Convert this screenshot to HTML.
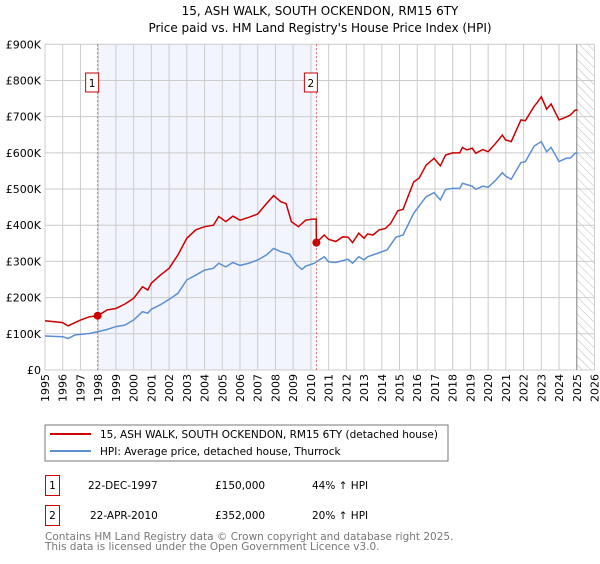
<!DOCTYPE html>
<html><head><meta charset="utf-8"><style>
body{margin:0;background:#fff;font-family:"DejaVu Sans","Liberation Sans",sans-serif;}
svg text{font-family:"DejaVu Sans","Liberation Sans",sans-serif;}
</style></head><body>
<svg id="c" width="600" height="560" viewBox="0 0 600 560">
<defs><pattern id="hatch" width="6" height="6" patternUnits="userSpaceOnUse" patternTransform="rotate(-45)"><line x1="0" y1="0" x2="0" y2="6" stroke="#bbb" stroke-width="1"/></pattern></defs>
<text x="320" y="15" text-anchor="middle" font-size="12">15, ASH WALK, SOUTH OCKENDON, RM15 6TY</text>
<text x="320" y="32" text-anchor="middle" font-size="12">Price paid vs. HM Land Registry's House Price Index (HPI)</text>
<g id="plot"></g>
<rect x="45" y="425" width="403" height="36" fill="#fff" stroke="#777"/>
<line x1="50" y1="434" x2="91" y2="434" stroke="#cc0000" stroke-width="2"/>
<text x="100" y="438" font-size="10.5">15, ASH WALK, SOUTH OCKENDON, RM15 6TY (detached house)</text>
<line x1="50" y1="451" x2="91" y2="451" stroke="#5b8fd4" stroke-width="2"/>
<text x="100" y="455" font-size="10.5">HPI: Average price, detached house, Thurrock</text>
<g>
<rect x="45.5" y="475.5" width="14" height="20" fill="#fff" stroke="#cc0000"/>
<text x="52.5" y="489" text-anchor="middle" font-size="10.5">1</text>
<text x="88" y="489" font-size="10.5">22-DEC-1997</text>
<text x="215" y="489" font-size="10.5">£150,000</text>
<text x="312" y="489" font-size="10.5">44% ↑ HPI</text></g>
<g>
<rect x="45.5" y="505.5" width="14" height="20" fill="#fff" stroke="#cc0000"/>
<text x="52.5" y="519" text-anchor="middle" font-size="10.5">2</text>
<text x="90" y="519" font-size="10.5">22-APR-2010</text>
<text x="215" y="519" font-size="10.5">£352,000</text>
<text x="312" y="519" font-size="10.5">20% ↑ HPI</text></g>
<text x="45" y="540" font-size="10.5" fill="#777">Contains HM Land Registry data © Crown copyright and database right 2025.</text>
<text x="45" y="550" font-size="10.5" fill="#777">This data is licensed under the Open Government Licence v3.0.</text>
</svg>
<script>
const yTicks=[0,100,200,300,400,500,600,700,800,900];
const yTickLabels=["£0","£100K","£200K","£300K","£400K","£500K","£600K","£700K","£800K","£900K"];
const years=[1995,1996,1997,1998,1999,2000,2001,2002,2003,2004,2005,2006,2007,2008,2009,2010,2011,2012,2013,2014,2015,2016,2017,2018,2019,2020,2021,2022,2023,2024,2025,2026];
const saleDates=[1997.97,2010.31];
const salePrices=[150,352];
const saleLabels=["1","2"];
const redT=[1995,1996,1996.3,1997,1997.5,1997.97,1998.5,1999,1999.5,2000,2000.5,2000.8,2001,2001.5,2002,2002.5,2003,2003.5,2004,2004.5,2004.8,2005.2,2005.6,2006,2006.5,2007,2007.5,2007.9,2008.3,2008.6,2008.9,2009.3,2009.7,2010.1,2010.3,2010.31,2010.75,2011,2011.4,2011.8,2012.1,2012.35,2012.7,2013,2013.2,2013.5,2013.85,2014.2,2014.5,2014.9,2015.2,2015.8,2016.1,2016.5,2016.95,2017.3,2017.6,2018,2018.4,2018.55,2018.8,2019.1,2019.3,2019.7,2020,2020.4,2020.8,2020.98,2021.3,2021.85,2022.1,2022.6,2022.8,2023,2023.3,2023.55,2024,2024.4,2024.65,2024.9,2025.05];
const redV=[136,131,122,138,147,150,166,170,182,198,230,221,240,262,281,318,364,387,396,400,424,410,425,414,422,431,460,482,465,460,410,396,414,417,417,352,373,361,355,368,367,352,378,364,376,373,387,391,405,440,444,520,530,566,585,564,594,600,600,615,608,613,599,609,603,625,649,636,631,691,689,729,741,755,721,735,691,699,705,718,718];
const bluT=[1995,1996,1996.3,1996.7,1997.5,1998,1998.5,1999,1999.5,2000,2000.5,2000.8,2001,2001.5,2002,2002.5,2003,2003.5,2004,2004.5,2004.8,2005.2,2005.6,2006,2006.5,2007,2007.5,2007.9,2008.3,2008.8,2009.2,2009.5,2009.7,2010.2,2010.75,2011,2011.4,2012.1,2012.35,2012.7,2013,2013.2,2013.85,2014.3,2014.8,2015.2,2015.8,2016.5,2016.95,2017.3,2017.6,2018,2018.4,2018.55,2019.1,2019.3,2019.7,2020,2020.4,2020.8,2020.98,2021.3,2021.85,2022.1,2022.6,2023,2023.3,2023.55,2024,2024.4,2024.65,2024.9,2025.05];
const bluV=[94,92,87,97,101,106,112,120,124,138,161,157,168,180,195,212,249,262,276,281,295,285,297,289,295,304,318,336,327,320,290,278,287,295,313,299,297,306,295,313,304,313,324,332,367,373,433,479,490,470,499,502,502,516,508,499,508,505,523,545,536,527,573,576,619,631,603,615,576,585,586,599,600];
const X0=45,X1=594.5,Y0=370,Y1=44.3;
const xs=t=>X0+(t-1995)/31*(X1-X0);
const ys=v=>Y0-v/900*(Y0-Y1);
const NS="http://www.w3.org/2000/svg";
const g=document.getElementById('plot');
function mk(tag,attrs,parent){const e=document.createElementNS(NS,tag);for(const k in attrs)e.setAttribute(k,attrs[k]);(parent||g).appendChild(e);return e;}
let e=mk('rect',{x:xs(saleDates[0]),y:Y1,width:xs(saleDates[1])-xs(saleDates[0])-3,height:Y0-Y1,fill:'#f2f5fd'});


e=mk('rect',{x:xs(2025),y:Y1,width:X1-xs(2025),height:Y0-Y1,fill:'url(#hatch)'});


years.forEach(yr=>{const x=xs(yr);
 e=mk('line',{x1:x,x2:x,y1:Y1,y2:Y0,stroke:'#ccc','stroke-width':1});
 
 
 e=mk('text',{x:0,y:0,'font-size':11,'text-anchor':'end',transform:`translate(${x+4},374) rotate(-90)`});
 e.textContent=yr;
 
 
});
yTicks.forEach((v,i)=>{const y=ys(v);
 e=mk('line',{x1:X0,x2:X1,y1:y,y2:y,stroke:'#ccc','stroke-width':1});
 
 
 e=mk('text',{x:X0-4,y:y+4,'font-size':11,'text-anchor':'end'});
 e.textContent=yTickLabels[i];
 
 
});
e=mk('line',{x1:xs(2025),x2:xs(2025),y1:Y1,y2:Y0,stroke:'#888','stroke-width':1});


saleDates.forEach((d,i)=>{const x=xs(d);
 e=mk('line',{x1:x,x2:x,y1:Y1,y2:Y0,stroke:'#e06060','stroke-width':1,'stroke-dasharray':'2,2'});
 
 
 e=mk('rect',{x:x-12,y:73,width:13,height:19,fill:'#fff',stroke:'#cc0000'});
 
 
 e=mk('text',{x:x-5.5,y:87,'font-size':10.5,'text-anchor':'middle'});
 e.textContent=saleLabels[i];
 
 
});
e=mk('polyline',{points:bluT.map((t,i)=>xs(t)+','+ys(bluV[i])).join(' '),fill:'none',stroke:'#5b8fd4','stroke-width':1.5});


e=mk('polyline',{points:redT.map((t,i)=>xs(t)+','+ys(redV[i])).join(' '),fill:'none',stroke:'#cc0000','stroke-width':1.5});


saleDates.forEach((d,i)=>{
 e=mk('circle',{cx:xs(d),cy:ys(salePrices[i]),r:4,fill:'#cc0000'});
 
 
});
</script>
</body></html>
